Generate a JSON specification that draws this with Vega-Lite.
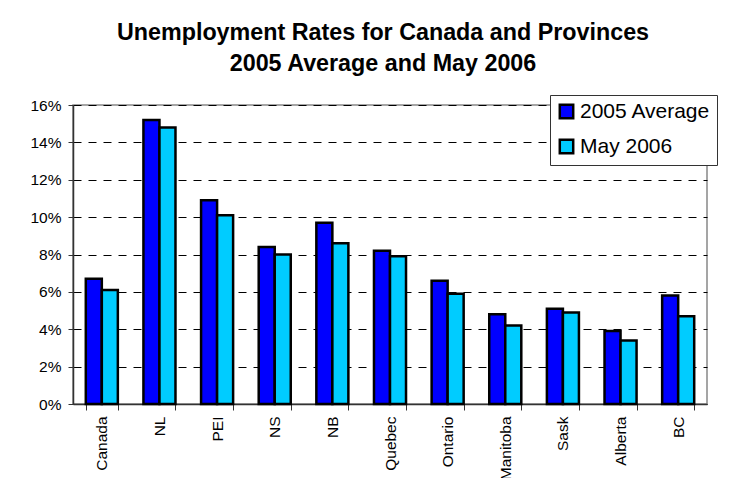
{
  "$schema": "https://vega.github.io/schema/vega-lite/v6.json",
  "width": 634,
  "height": 299,
  "autosize": {"type": "none"},
  "padding": {"left": 73, "top": 105, "right": 38, "bottom": 74},
  "background": "white",
  "title": {
    "text": ["Unemployment Rates for Canada and Provinces", "2005 Average and May 2006"],
    "font": "Liberation Sans",
    "fontSize": 23.3,
    "fontWeight": "bold",
    "lineHeight": 31,
    "color": "black",
    "anchor": "middle",
    "frame": "group",
    "baseline": "bottom",
    "offset": -5,
    "dx": -7
  },
  "config": {
    "view": {"stroke": "#888888", "strokeWidth": 1.5},
    "font": "Liberation Sans"
  },
  "data": {
    "values": [
      {"region": "Canada", "series": "2005 Average", "rate": 6.7},
      {"region": "Canada", "series": "May 2006", "rate": 6.1},
      {"region": "NL", "series": "2005 Average", "rate": 15.2},
      {"region": "NL", "series": "May 2006", "rate": 14.8},
      {"region": "PEI", "series": "2005 Average", "rate": 10.9},
      {"region": "PEI", "series": "May 2006", "rate": 10.1},
      {"region": "NS", "series": "2005 Average", "rate": 8.4},
      {"region": "NS", "series": "May 2006", "rate": 8.0},
      {"region": "NB", "series": "2005 Average", "rate": 9.7},
      {"region": "NB", "series": "May 2006", "rate": 8.6},
      {"region": "Quebec", "series": "2005 Average", "rate": 8.2},
      {"region": "Quebec", "series": "May 2006", "rate": 7.9},
      {"region": "Ontario", "series": "2005 Average", "rate": 6.6},
      {"region": "Ontario", "series": "May 2006", "rate": 5.9},
      {"region": "Manitoba", "series": "2005 Average", "rate": 4.8},
      {"region": "Manitoba", "series": "May 2006", "rate": 4.2},
      {"region": "Sask", "series": "2005 Average", "rate": 5.1},
      {"region": "Sask", "series": "May 2006", "rate": 4.9},
      {"region": "Alberta", "series": "2005 Average", "rate": 3.9},
      {"region": "Alberta", "series": "May 2006", "rate": 3.4},
      {"region": "BC", "series": "2005 Average", "rate": 5.8},
      {"region": "BC", "series": "May 2006", "rate": 4.7}
    ]
  },
  "mark": {"type": "bar", "stroke": "black", "strokeWidth": 2.5},
  "encoding": {
    "x": {
      "field": "region",
      "type": "nominal",
      "sort": null,
      "title": null,
      "scale": {"paddingInner": 0.444, "paddingOuter": 0.222},
      "axis": {
        "labelAngle": -90,
        "labelAlign": "right",
        "labelBaseline": "middle",
        "labelFontSize": 15.5,
        "labelColor": "black",
        "labelPadding": 6,
        "tickBand": "extent",
        "tickSize": 6,
        "tickColor": "#333333",
        "domainColor": "#333333",
        "domainWidth": 1.5,
        "grid": false
      }
    },
    "xOffset": {
      "field": "series",
      "type": "nominal",
      "scale": {"paddingInner": 0, "paddingOuter": 0}
    },
    "y": {
      "field": "rate",
      "type": "quantitative",
      "title": null,
      "scale": {"domain": [0, 16], "nice": false},
      "axis": {
        "values": [0, 2, 4, 6, 8, 10, 12, 14, 16],
        "labelExpr": "datum.value + '%'",
        "labelFontSize": 15.5,
        "labelColor": "black",
        "labelPadding": 7,
        "tickSize": 5,
        "tickColor": "#333333",
        "domainColor": "#333333",
        "domainWidth": 1.5,
        "grid": true,
        "gridColor": "black",
        "gridDash": [8, 7],
        "gridWidth": 1
      }
    },
    "color": {
      "field": "series",
      "type": "nominal",
      "title": null,
      "scale": {"domain": ["2005 Average", "May 2006"], "range": ["#0000FF", "#00CCFF"]},
      "legend": {
        "orient": "none",
        "legendX": 477,
        "legendY": -10,
        "symbolType": "square",
        "symbolSize": 180,
        "symbolStrokeColor": "black",
        "symbolStrokeWidth": 2.5,
        "symbolOpacity": 1,
        "labelFontSize": 21,
        "labelColor": "black",
        "labelLimit": 300,
        "rowPadding": 10,
        "padding": 6,
        "strokeColor": "#333333",
        "fillColor": "white",
        "labelOffset": 3
      }
    }
  }
}
